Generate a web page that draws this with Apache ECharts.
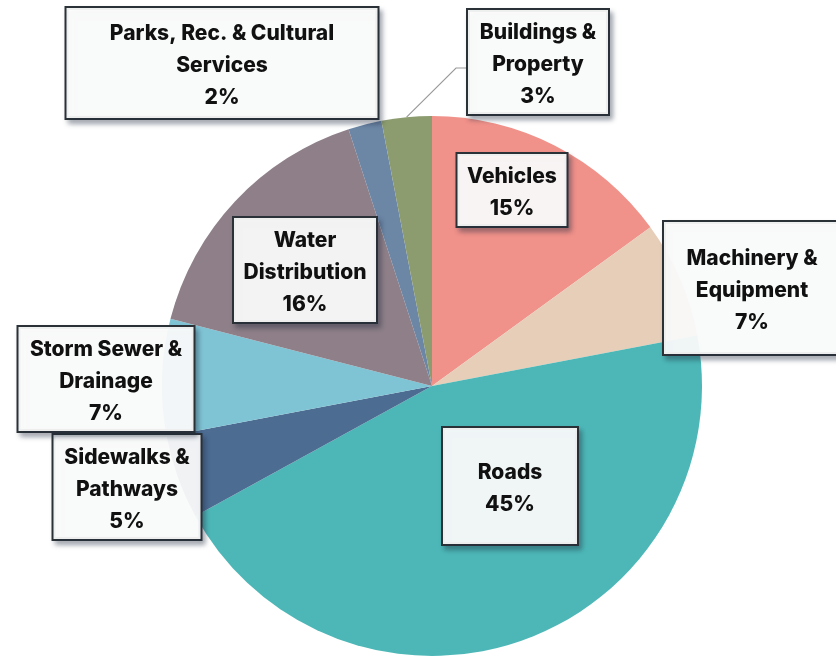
<!DOCTYPE html>
<html>
<head>
<meta charset="utf-8">
<script src="https://cdn.jsdelivr.net/npm/echarts@6/dist/echarts.min.js"></script>
<style>
html,body{margin:0;padding:0;background:#fff;}
#chart{width:836px;height:657px;}
</style>
</head>
<body>
<div id="chart"></div>
<script>
// ---- data ----
const categories = [
  'Vehicles',
  'Machinery &\nEquipment',
  'Roads',
  'Sidewalks &\nPathways',
  'Storm Sewer &\nDrainage',
  'Water\nDistribution',
  'Parks, Rec. & Cultural\nServices',
  'Buildings &\nProperty'
];
const values = [15, 7, 45, 5, 7, 16, 2, 3];

// ---- styles / layout (kept apart from the data) ----
const palette = ['#F0918A', '#E6CEB8', '#4DB7B7', '#4C6C92', '#7FC4D5', '#8E7F88', '#6C86A6', '#8C9C6E'];
const boxWidth = [109, 176, 134, 147, 175, 142, 311, 140];
const boxPadV = [4, 18, 26, 4, 4, 4, 7, 4];
const labelPos = [[512, 189], [752, 287], [510, 485], [127, 486], [106, 378], [305, 269], [222, 62], [538, 61]];
const textShift = 3;
const boxNudge = 3;
const leaderIndex = 7;

const chart = echarts.init(document.getElementById('chart'), null, {renderer: 'canvas'});

const data = categories.map((name, i) => ({
  name: name,
  value: values[i],
  itemStyle: {color: palette[i]},
  label: {width: boxWidth[i], padding: [boxPadV[i] + textShift, 0, boxPadV[i] - textShift, 0]},
  labelLine: {show: i === leaderIndex}
}));

chart.setOption({
  animation: false,
  series: [{
    type: 'pie',
    center: [432, 386],
    radius: [0, 270],
    startAngle: 90,
    clockwise: true,
    avoidLabelOverlap: false,
    data: data,
    itemStyle: {borderWidth: 0},
    label: {
      show: true,
      position: 'outside',
      formatter: '{b}\n{c}%',
      fontFamily: 'Inter',
      fontWeight: 800,
      fontSize: 21,
      lineHeight: 32,
      color: '#111',
      align: 'center',
      backgroundColor: 'rgba(255,255,255,0.92)',
      borderColor: '#2c3338',
      borderWidth: 2,
      shadowColor: 'rgba(30,40,60,0.35)',
      shadowBlur: 5,
      shadowOffsetX: 3,
      shadowOffsetY: 4
    },
    labelLine: {
      show: false,
      length: 10,
      length2: 10,
      lineStyle: {color: '#9a9a9a', width: 1.2}
    },
    labelLayout: function (params) {
      const i = params.dataIndex;
      const p = labelPos[i];
      const h = params.labelRect.height;
      const res = {x: p[0], y: p[1] - h / 2 + boxNudge, align: 'center', verticalAlign: 'top'};
      if (i === leaderIndex && params.labelLinePoints) {
        const s = params.labelLinePoints[0];
        const left = p[0] - params.labelRect.width / 2;
        res.labelLinePoints = [[s[0], s[1]], [left - 10, p[1] + 7], [left, p[1] + 7]];
      }
      return res;
    }
  }]
});
</script>
</body>
</html>
